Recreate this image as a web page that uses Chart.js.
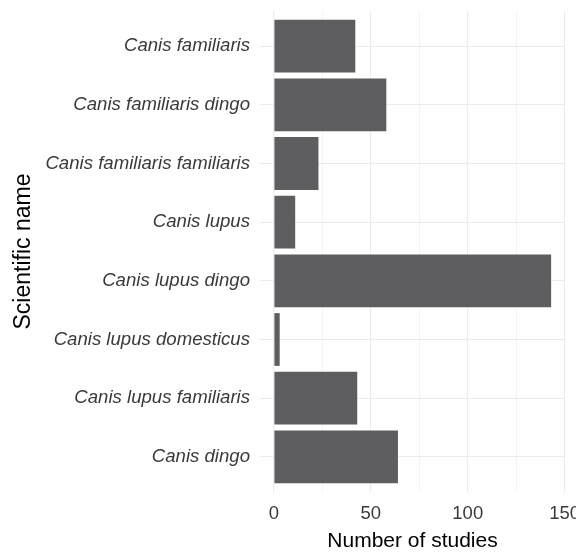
<!DOCTYPE html>
<html><head><meta charset="utf-8">
<script src="https://cdn.jsdelivr.net/npm/chart.js@4/dist/chart.umd.min.js"></script>
<style>html,body{margin:0;padding:0;background:#fff}#wrap{width:576px;height:554px;position:relative}</style>
</head><body><div id="wrap"><canvas id="c"></canvas></div>
<script>
const categories = ["Canis familiaris","Canis familiaris dingo","Canis familiaris familiaris","Canis lupus","Canis lupus dingo","Canis lupus domesticus","Canis lupus familiaris","Canis dingo"];
const studies = [42, 58, 23, 11, 143, 3, 43, 64];
const xTicks = [0, 25, 50, 75, 100, 125, 150];
const xTickLabels = ["0", "", "50", "", "100", "", "150"];

const FONT = "'Liberation Sans', Arial, Helvetica, sans-serif";

new Chart(document.getElementById('c'), {
  type: 'bar',
  data: {
    datasets: [{
      data: studies.map((v, i) => ({x: v, y: i})),
      backgroundColor: '#5e5e61',
      borderWidth: 0,
      barPercentage: 0.9,
      categoryPercentage: 1.0
    }]
  },
  options: {
    indexAxis: 'y',
    responsive: true,
    maintainAspectRatio: false,
    animation: false,
    layout: {padding: {top: 11, right: 11, left: 0, bottom: 0}},
    plugins: {legend: {display: false}, tooltip: {enabled: false}},
    scales: {
      x: {
        type: 'linear',
        min: -7.15,
        max: 150.15,
        offset: false,
        afterBuildTicks: s => { s.ticks = xTicks.map(v => ({value: v})); },
        afterFit: s => { s.paddingLeft = 0; s.paddingRight = 0; s.height = 62; },
        border: {display: false},
        grid: {
          offset: false,
          drawTicks: false,
          color: c => (c.tick && c.tick.value % 50 === 0) ? '#ebebeb' : '#f1f1f1',
          lineWidth: c => (c.tick && c.tick.value % 50 === 0) ? 1.1 : 0.8
        },
        ticks: {
          padding: 11,
          maxRotation: 0,
          autoSkip: false,
          color: '#3a3a3a',
          font: {family: FONT, size: 18.5},
          callback: (v) => { const i = xTicks.indexOf(v); return i >= 0 ? xTickLabels[i] : ''; }
        },
        title: {
          display: true,
          text: 'Number of studies',
          color: '#000',
          font: {family: FONT, size: 21},
          padding: {top: 3.6, bottom: 0}
        }
      },
      y: {
        type: 'linear',
        reverse: true,
        offset: false,
        min: -0.6,
        max: categories.length - 1 + 0.6,
        afterBuildTicks: s => { s.ticks = categories.map((c, i) => ({value: i})); },
        afterFit: s => { s.width = 260; s.paddingTop = 0; s.paddingBottom = 0; },
        border: {display: false},
        grid: {offset: false, drawTicks: false, color: '#ebebeb', lineWidth: 1.1},
        ticks: {
          padding: 10,
          autoSkip: false,
          color: '#3a3a3a',
          font: {family: FONT, size: 18.6, style: 'italic'},
          callback: v => categories[v]
        },
        title: {
          display: true,
          text: 'Scientific name',
          color: '#000',
          font: {family: FONT, size: 23},
          padding: {top: 10, bottom: 0}
        }
      }
    }
  }
});
</script>
</body></html>
